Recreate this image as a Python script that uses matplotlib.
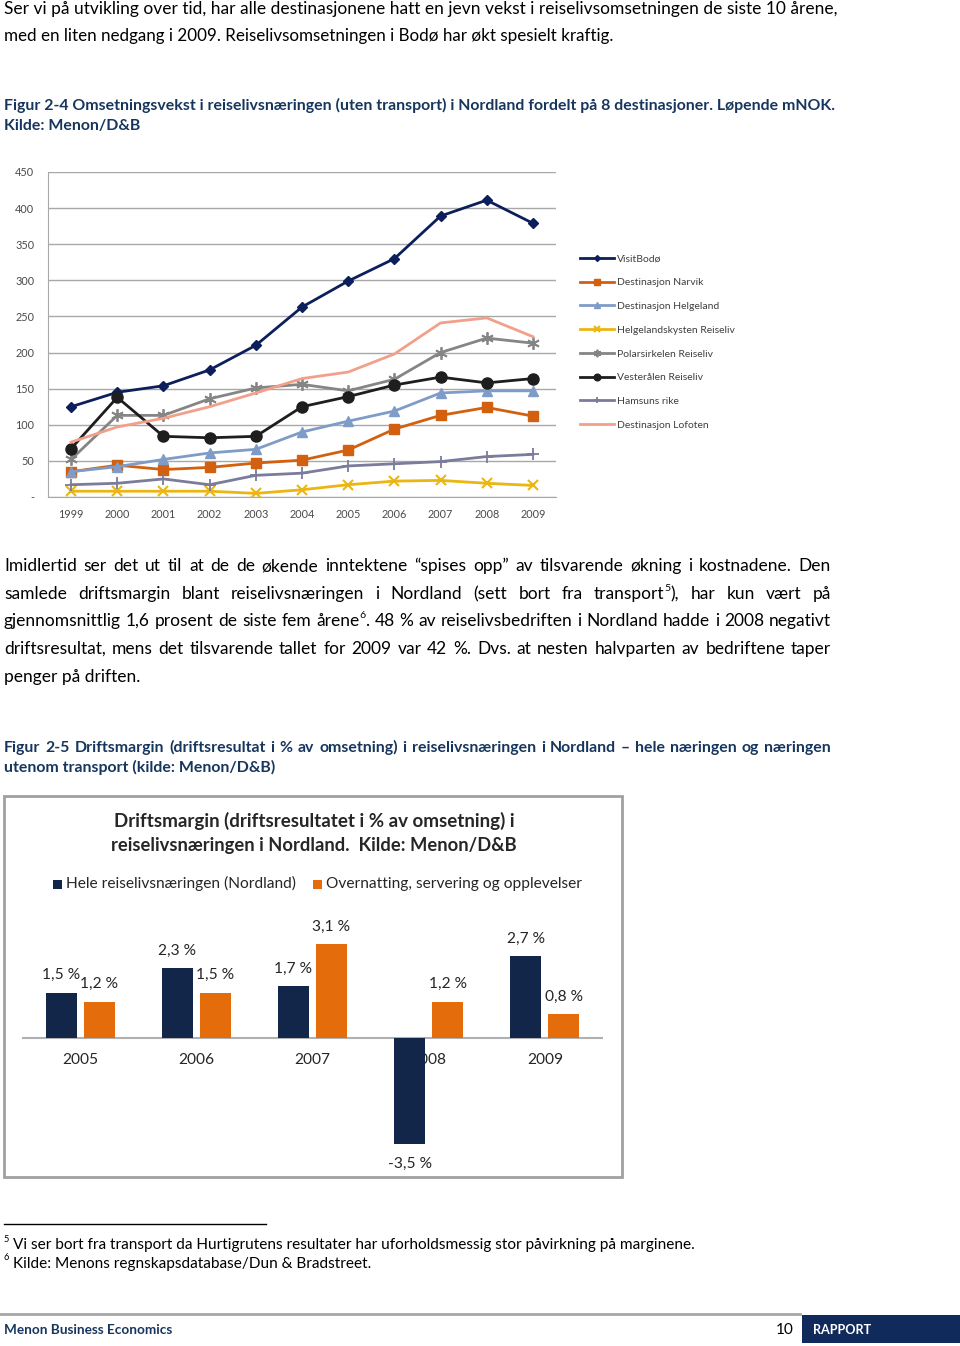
import matplotlib
matplotlib.use("Agg")
import matplotlib.pyplot as plt
from matplotlib.patches import Rectangle
from matplotlib.lines import Line2D
from matplotlib.font_manager import FontProperties
import numpy as np

# ---------------- data ----------------
years = ["1999", "2000", "2001", "2002", "2003", "2004", "2005", "2006", "2007", "2008", "2009"]
visitbodo = [125, 145, 154, 176, 210, 263, 299, 330, 389, 411, 379]
narvik = [35, 44, 38, 41, 47, 51, 65, 94, 113, 124, 112]
helgeland = [35, 42, 52, 61, 66, 90, 105, 119, 144, 147, 147]
helgelandskysten = [8, 8, 8, 8, 5, 10, 17, 22, 23, 19, 16]
polarsirkelen = [52, 113, 113, 136, 151, 156, 147, 163, 200, 220, 213]
vesteralen = [67, 138, 84, 82, 84, 125, 139, 155, 166, 158, 164]
hamsun = [17, 19, 25, 17, 30, 33, 43, 46, 49, 56, 59]
lofoten = [76, 97, 109, 125, 144, 164, 173, 198, 241, 248, 222]
series_names = ["VisitBodø", "Destinasjon Narvik", "Destinasjon Helgeland",
                "Helgelandskysten Reiseliv", "Polarsirkelen Reiseliv",
                "Vesterålen Reiseliv", "Hamsuns rike", "Destinasjon Lofoten"]
y_ticks = [0, 50, 100, 150, 200, 250, 300, 350, 400, 450]
y_ticklabels = ["-", "50", "100", "150", "200", "250", "300", "350", "400", "450"]

bar_years = ["2005", "2006", "2007", "2008", "2009"]
hele = [1.5, 2.3, 1.7, -3.5, 2.7]
overnatting = [1.2, 1.5, 3.1, 1.2, 0.8]
bar_names = ["Hele reiselivsnæringen (Nordland)", "Overnatting, servering og opplevelser"]

# ---------------- setup ----------------
W, H = 960, 1346
FAMILY = ["Lato", "DejaVu Sans"]
plt.rcParams["font.family"] = FAMILY

fig = plt.figure(figsize=(W / 100, H / 100), dpi=100)
fig.patch.set_facecolor("white")
renderer = fig.canvas.get_renderer()

BLUE = "#17365D"


def fx(x):
    return x / W


def fy(y):
    return 1 - y / H


def width_of(s, size, **kw):
    t = fig.text(0, 0, s, fontsize=size, **kw)
    w = t.get_window_extent(renderer).width
    t.remove()
    return w


def fit_size(s, target, size=12, **kw):
    return size * target / width_of(s, size, **kw)


def base_off(size, weight="normal"):
    fp = FontProperties(family=FAMILY, size=size, weight=weight)
    w, h, d = renderer.get_text_width_height_descent("lp", fp, ismath=False)
    return h / 2 - d


def put(x, y, s, size, ha="left", weight="normal", **kw):
    # y = visual centre line (px from top); text drawn on a common baseline
    return fig.text(fx(x), fy(y + base_off(size, weight)), s, fontsize=size, ha=ha,
                    va="baseline", fontweight=weight, **kw)


def fit_text(s, x0, x1, y, weight="normal", **kw):
    size = fit_size(s, x1 - x0, fontweight=weight)
    return put(x0, y, s, size, weight=weight, **kw)


def word_parts(w):
    # "base^5rest" -> base, superscript, rest
    if "^" in w:
        base, tail = w.split("^", 1)
        return base, tail[0], tail[1:]
    return w, "", ""


def word_width(w, size, weight):
    base, sup, rest = word_parts(w)
    tot = width_of(base, size, fontweight=weight)
    if sup:
        tot += width_of(sup, size * 0.6, fontweight=weight)
    if rest:
        tot += width_of(rest, size, fontweight=weight)
    return tot


def draw_word(x, y, w, size, weight, **kw):
    base, sup, rest = word_parts(w)
    put(x, y, base, size, weight=weight, **kw)
    x += width_of(base, size, fontweight=weight)
    if sup:
        put(x, y - size * 0.42, sup, size * 0.6, weight=weight, **kw)
        x += width_of(sup, size * 0.6, fontweight=weight)
    if rest:
        put(x, y, rest, size, weight=weight, **kw)


def justify(s, x0, x1, y, size, weight="normal", **kw):
    words = s.split(" ")
    ws = [word_width(w, size, weight) for w in words]
    gap = (x1 - x0 - sum(ws)) / (len(words) - 1)
    x = x0
    for w, wd in zip(words, ws):
        draw_word(x, y, w, size, weight, **kw)
        x += wd + gap


# ---------------- top text ----------------
fit_text("Ser vi på utvikling over tid, har alle destinasjonene hatt en jevn vekst i reiselivsomsetningen de siste 10 årene,",
         4, 831, 9, color="black")
fit_text("med en liten nedgang i 2009. Reiselivsomsetningen i Bodø har økt spesielt kraftig.", 4, 609, 36, color="black")

cap1 = "Figur 2-4 Omsetningsvekst i reiselivsnæringen (uten transport) i Nordland fordelt på 8 destinasjoner. Løpende mNOK."
cap_size = fit_size(cap1, 827, fontweight="bold")
put(4, 106, cap1, cap_size, weight="bold", color=BLUE)
put(4, 126, "Kilde: Menon/D&B", cap_size, weight="bold", color=BLUE)

# ---------------- line chart ----------------
ax1 = fig.add_axes([fx(48), fy(497), (556 - 48) / W, (497 - 172) / H])
xs = np.arange(len(years))
data = [visitbodo, narvik, helgeland, helgelandskysten, polarsirkelen, vesteralen, hamsun, lofoten]
styles = [
    dict(color="#0C1F5B", marker="D", ms=5),
    dict(color="#D2600E", marker="s", ms=7),
    dict(color="#7E9CC7", marker="^", ms=7),
    dict(color="#EBB512", marker="x", ms=7, mew=1.5),
    dict(color="#858585", marker=(6, 2, 0), ms=9, mew=1.3),
    dict(color="#1E1E1E", marker="o", ms=8),
    dict(color="#7B7B9C", marker="+", ms=8, mew=1.3),
    dict(color="#F2A08A", marker=None),
]
handles = []
for name, vals, st in zip(series_names, data, styles):
    ln, = ax1.plot(xs, vals, lw=2, label=name, zorder=3, **st)
    handles.append(ln)

ax1.set_xlim(-0.5, len(years) - 0.5)
ax1.set_ylim(0, 450)
ax1.set_yticks(y_ticks)
ax1.set_yticklabels(y_ticklabels)
ax1.set_xticks(xs)
ax1.set_xticklabels(years)
ax1.tick_params(length=0, labelsize=7.8, labelcolor="#4A4A4A")
ax1.tick_params(axis="x", pad=9)
ax1.tick_params(axis="y", pad=10)
ax1.grid(axis="y", color="#A8A8A8", lw=1)
ax1.set_axisbelow(True)
for sp in ["top", "right"]:
    ax1.spines[sp].set_visible(False)
ax1.spines["left"].set_color("#A8A8A8")
ax1.spines["bottom"].set_color("#A8A8A8")

leg = fig.legend(handles=handles, loc="upper left", bbox_to_anchor=(fx(576), fy(250)),
                 frameon=False, fontsize=7.5, handlelength=3.2, labelspacing=1.39,
                 handletextpad=0.3, borderaxespad=0, markerscale=0.6)
for t in leg.get_texts():
    t.set_color("#404040")

# ---------------- paragraph ----------------
para = [
    "Imidlertid ser det ut til at de de økende inntektene “spises opp” av tilsvarende økning i kostnadene. Den",
    "samlede driftsmargin blant reiselivsnæringen i Nordland (sett bort fra transport^5), har kun vært på",
    "gjennomsnittlig 1,6 prosent de siste fem årene^6. 48 % av reiselivsbedriften i Nordland hadde i 2008 negativt",
    "driftsresultat, mens det tilsvarende tallet for 2009 var 42 %. Dvs. at nesten halvparten av bedriftene taper",
]
line3_natural = sum(word_width(w, 12, "normal") for w in para[2].split(" ")) + \
    width_of(" ", 12) * (len(para[2].split(" ")) - 1)
psize = 12 * 827 / line3_natural * 0.99
for line, y in zip(para, [566, 594, 621, 649]):
    justify(line, 4, 831, y, psize, color="black")
put(4, 677, "penger på driften.", psize, color="black")

cap2 = "Figur 2-5 Driftsmargin (driftsresultat i % av omsetning) i reiselivsnæringen i Nordland – hele næringen og næringen"
cap2_size = min(cap_size, fit_size(cap2, 827, fontweight="bold") * 0.99)
justify(cap2, 4, 831, 748, cap2_size, weight="bold", color=BLUE)
put(4, 768, "utenom transport (kilde: Menon/D&B)", cap2_size, weight="bold", color=BLUE)

# ---------------- bar chart ----------------
fig.patches.append(Rectangle((fx(4), fy(1177)), (622 - 4) / W, (1177 - 796) / H,
                             transform=fig.transFigure, fill=False, edgecolor="#A0A0A0", lw=2))

TXT = "#262626"
fit_text("Driftsmargin (driftsresultatet i % av omsetning) i", 114, 511, 821, weight="bold", color=TXT)
fit_text("reiselivsnæringen i Nordland.  Kilde: Menon/D&B", 111, 514, 845, weight="bold", color=TXT)

DARK = "#12264A"
ORANGE = "#E46C0A"
lsize = fit_size(bar_names[0], 230)
fig.patches.append(Rectangle((fx(53), fy(889)), 9 / W, 9 / H, transform=fig.transFigure,
                             facecolor=DARK, edgecolor="none"))
put(66, 884, bar_names[0], lsize, color=TXT)
fig.patches.append(Rectangle((fx(313), fy(889)), 9 / W, 9 / H, transform=fig.transFigure,
                             facecolor=ORANGE, edgecolor="none"))
put(326, 884, bar_names[1], lsize, color=TXT)

top_px, bot_px, zero_px, ppu = 900, 1160, 1038, 30.3
ax2 = fig.add_axes([fx(22), fy(bot_px), (603 - 22) / W, (bot_px - top_px) / H])
ax2.set_xlim(-0.5, len(bar_years) - 0.5)
ax2.set_ylim(-(bot_px - zero_px) / ppu, (zero_px - top_px) / ppu)
ax2.axis("off")
bx = np.arange(len(bar_years))
bw = 31 / 116.2
off = 19 / 116.2
b1 = ax2.bar(bx - off, hele, bw, color=DARK, zorder=3)
b2 = ax2.bar(bx + off, overnatting, bw, color=ORANGE, zorder=3)
ax2.axhline(0, color="#B0B0B0", lw=1.5, zorder=2)


def pct(v):
    return f"{v:.1f}".replace(".", ",") + " %"


for bars, vals in [(b1, hele), (b2, overnatting)]:
    for rect, v in zip(bars, vals):
        cx = rect.get_x() + rect.get_width() / 2
        dy = 12.5 if v >= 0 else -14
        ax2.annotate(pct(v), (cx, v), xytext=(0, dy), textcoords="offset points",
                     ha="center", va="center", fontsize=lsize, color=TXT)
for i, yr in enumerate(bar_years):
    ax2.annotate(yr, (i, 0), xytext=(0, -15.5), textcoords="offset points",
                 ha="center", va="center", fontsize=lsize, color=TXT, zorder=1)

# ---------------- footnotes ----------------
fig.add_artist(Line2D([fx(4), fx(266)], [fy(1224), fy(1224)], color="black", lw=1))
fn1 = "Vi ser bort fra transport da Hurtigrutens resultater har uforholdsmessig stor påvirkning på marginene."
fsize = fit_size(fn1, 678)
put(4, 1239, "5", fsize * 0.6, color="black")
put(13, 1245, fn1, fsize, color="black")
put(4, 1258, "6", fsize * 0.6, color="black")
put(13, 1264, "Kilde: Menons regnskapsdatabase/Dun & Bradstreet.", fsize, color="black")

# ---------------- footer ----------------
fig.add_artist(Line2D([0, fx(800)], [fy(1314), fy(1314)], color="#A6A6A6", lw=2))
fig.patches.append(Rectangle((fx(802), fy(1343)), (960 - 802) / W, (1343 - 1315) / H,
                             transform=fig.transFigure, facecolor="#102A5C", edgecolor="none"))
fit_text("Menon Business Economics", 4, 171, 1330, weight="bold", color=BLUE)
put(794, 1330, "10", fsize, ha="right", color="black")
fit_text("RAPPORT", 813, 871, 1330, weight="bold", color="white")

fig.savefig("out.png", dpi=100, facecolor="white")
